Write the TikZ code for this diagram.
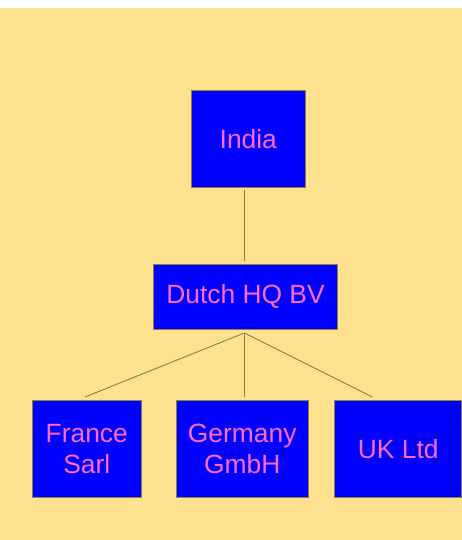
\documentclass[tikz,border=0pt]{standalone}
\usepackage{fontspec}
\setmainfont{Liberation Sans}
\definecolor{sandbg}{RGB}{253,225,143}
\definecolor{boxblue}{RGB}{0,0,255}
\definecolor{labelpink}{RGB}{255,105,200}
\definecolor{edgeolive}{RGB}{140,130,60}
\tikzset{
  entity/.style={draw=edgeolive, line width=1pt, fill=boxblue, text=labelpink,
    inner sep=0pt, align=center, font=\fontsize{26.4}{31.7}\selectfont},
  link/.style={draw=edgeolive, line width=0.9pt}
}
\begin{document}
\begin{tikzpicture}[x=1pt,y=-1pt]
        % Background
        \fill[white] (0,0) rectangle (462,540);
        \fill[sandbg] (0,8) rectangle (462,540);
        \useasboundingbox (0,0) rectangle (462,540);

        % Boxes
        \node[entity, minimum width=114.5pt, minimum height=96pt] (india) at (248.3,139) {India};
        \node[entity, minimum width=184.4pt, minimum height=64.7pt] (dutch) at (245.5,296.7) {Dutch HQ BV};
        \node[entity, minimum width=109pt, minimum height=96.6pt] (france) at (86.8,449) {France\\Sarl};
        \node[entity, minimum width=132.3pt, minimum height=96.6pt] (germany) at (242.2,449) {Germany\\GmbH};
        \node[entity, minimum width=126.5pt, minimum height=96.6pt] (uk) at (398.2,449) {UK Ltd};

        % Link ends
        \coordinate (hub) at (244.3,333);
        \coordinate (fr top) at (85,397);
        \coordinate (de top) at (244.3,397);
        \coordinate (uk top) at (372.3,397);

        % Links
        \draw[link, shorten <=2pt, shorten >=2.5pt] (india.south -| hub) -- (dutch.north -| hub);
        \draw[link] (hub) -- (fr top);
        \draw[link] (hub) -- (de top);
        \draw[link] (hub) -- (uk top);
\end{tikzpicture}
\end{document}
